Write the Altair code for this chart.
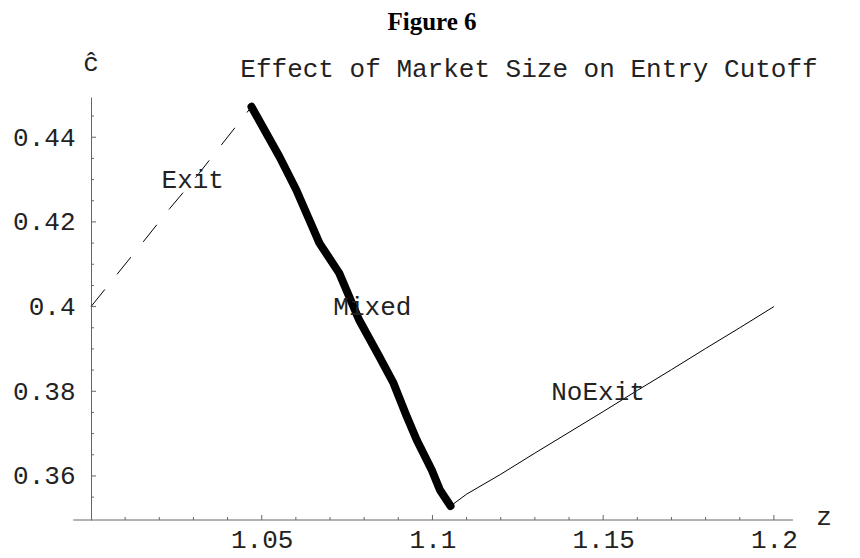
import altair as alt
import pandas as pd

# ---- data ----
exit_z = [1.0000, 1.0076, 1.0153, 1.0231, 1.0309, 1.0382, 1.0470]
exit_c = [0.4000, 0.4076, 0.4153, 0.4232, 0.4307, 0.4382, 0.4472]

mixed_z = [1.0470, 1.0552, 1.0601, 1.0669, 1.0727, 1.0785, 1.0843, 1.0886,
           1.0925, 1.0954, 1.0998, 1.1022, 1.1053]
mixed_c = [0.4472, 0.4354, 0.4276, 0.4150, 0.4079, 0.3969, 0.3884, 0.3819,
           0.3740, 0.3685, 0.3614, 0.3567, 0.3529]

noexit_z = [1.1053, 1.1100, 1.1200, 1.1300, 1.1400, 1.1500, 1.1600, 1.1700,
            1.1800, 1.1900, 1.2000]
noexit_c = [0.3529, 0.3557, 0.3604, 0.3654, 0.3703, 0.3752, 0.3802, 0.3851,
            0.3901, 0.3950, 0.4000]

x_major = [1.05, 1.1, 1.15, 1.2]
x_minor = [1.01, 1.02, 1.03, 1.04, 1.06, 1.07, 1.08, 1.09, 1.11, 1.12, 1.13,
           1.14, 1.16, 1.17, 1.18, 1.19]
y_major = [0.36, 0.38, 0.40, 0.42, 0.44]
y_minor = [0.355, 0.365, 0.37, 0.375, 0.385, 0.39, 0.395, 0.405, 0.41, 0.415,
           0.425, 0.43, 0.435, 0.445]

curve_labels = ["Exit", "Mixed", "NoExit"]
curve_label_z = [1.0298, 1.0824, 1.1485]
curve_label_c = [0.4299, 0.3999, 0.3798]

title_text = "Effect of Market Size on Entry Cutoff"
fig_text = "Figure 6"
y_title = "ĉ"
x_title = "z"

# ---- scales / layout ----
W, H = 702, 423
X_DOMAIN = [1.0, 1.2056]
Y_DOMAIN = [0.3496, 0.4495]
X_AXIS_LEFT = 0.9948
MONO = "Liberation Mono"
FS = 26
AX = "#666666"
TXT = "#222222"

xs = alt.Scale(domain=X_DOMAIN, nice=False, zero=False)
ys = alt.Scale(domain=Y_DOMAIN, nice=False, zero=False)

x_axis = alt.Axis(values=x_major, format=".2~f", domain=False, ticks=False,
                  tickSize=0, grid=False, labelFont=MONO, labelFontSize=FS,
                  labelColor=TXT, labelPadding=6, labelFlush=False,
                  labelOverlap=False, title=None)
y_axis = alt.Axis(values=y_major, format=".2~f", domain=True, domainColor=AX,
                  domainWidth=1, ticks=False, tickSize=0, grid=False,
                  labelFont=MONO, labelFontSize=FS, labelColor=TXT,
                  labelPadding=16, labelFlush=False, labelOverlap=False,
                  title=None)


def X(f):
    return alt.X(f, type="quantitative", scale=xs, axis=x_axis)


def Y(f):
    return alt.Y(f, type="quantitative", scale=ys, axis=y_axis)


exit_df = pd.DataFrame({"z": exit_z, "c": exit_c})
mixed_df = pd.DataFrame({"z": mixed_z, "c": mixed_c})
noexit_df = pd.DataFrame({"z": noexit_z, "c": noexit_c})
lab_df = pd.DataFrame({"t": curve_labels, "z": curve_label_z, "c": curve_label_c})

exit_line = alt.Chart(exit_df).mark_line(
    color="black", strokeWidth=1, strokeDash=[22, 19.5]
).encode(x=X("z"), y=Y("c"))

mixed_line = alt.Chart(mixed_df).mark_line(
    color="black", strokeWidth=8, strokeCap="round", strokeJoin="round"
).encode(x=X("z"), y=Y("c"))

noexit_line = alt.Chart(noexit_df).mark_line(
    color="black", strokeWidth=1
).encode(x=X("z"), y=Y("c"))

# x-axis line (extends slightly left of the y-axis, Mathematica style)
xline = alt.Chart(pd.DataFrame({"a": [X_AXIS_LEFT], "b": [X_DOMAIN[1]], "c": [Y_DOMAIN[0]]})).mark_rule(
    color=AX, strokeWidth=1
).encode(x=X("a"), x2="b", y=Y("c"))

xmaj = alt.Chart(pd.DataFrame({"v": x_major})).mark_rule(color=AX, strokeWidth=1).encode(
    x=X("v"), y=alt.value(H), y2=alt.value(H - 5))
xmin = alt.Chart(pd.DataFrame({"v": x_minor})).mark_rule(color=AX, strokeWidth=1).encode(
    x=X("v"), y=alt.value(H), y2=alt.value(H - 3))
ymaj = alt.Chart(pd.DataFrame({"v": y_major})).mark_rule(color=AX, strokeWidth=1).encode(
    y=Y("v"), x=alt.value(0), x2=alt.value(5))
ymin = alt.Chart(pd.DataFrame({"v": y_minor})).mark_rule(color=AX, strokeWidth=1).encode(
    y=Y("v"), x=alt.value(0), x2=alt.value(3))

labels = alt.Chart(lab_df).mark_text(
    font=MONO, fontSize=FS, color=TXT, align="center", baseline="middle"
).encode(x=X("z"), y=Y("c"), text="t:N")

ttl = alt.Chart(pd.DataFrame({"t": [title_text]})).mark_text(
    font=MONO, fontSize=FS, color=TXT, align="center", baseline="middle"
).encode(x=alt.value(438), y=alt.value(-28), text="t:N")

fig = alt.Chart(pd.DataFrame({"t": [fig_text]})).mark_text(
    font="Liberation Serif", fontSize=25, fontWeight="bold", color="black",
    align="center", baseline="alphabetic"
).encode(x=alt.value(341), y=alt.value(-67), text="t:N")

yt = alt.Chart(pd.DataFrame({"t": [y_title]})).mark_text(
    font=MONO, fontSize=FS, color=TXT, align="center", baseline="middle"
).encode(x=alt.value(0), y=alt.value(-34), text="t:N")

xt = alt.Chart(pd.DataFrame({"t": [x_title]})).mark_text(
    font=MONO, fontSize=FS, color=TXT, align="center", baseline="alphabetic"
).encode(x=alt.value(733), y=alt.value(428), text="t:N")

chart = alt.layer(
    exit_line, mixed_line, noexit_line, xline, xmaj, xmin, ymaj, ymin,
    labels, ttl, fig, yt, xt
).properties(
    width=W, height=H,
    autosize=alt.AutoSizeParams(type="none"),
    padding={"left": 83, "top": 89, "right": 56, "bottom": 38},
    background="white",
).configure_view(strokeWidth=0)

chart.save("out.html", embed_options={"renderer": "svg", "actions": False})
